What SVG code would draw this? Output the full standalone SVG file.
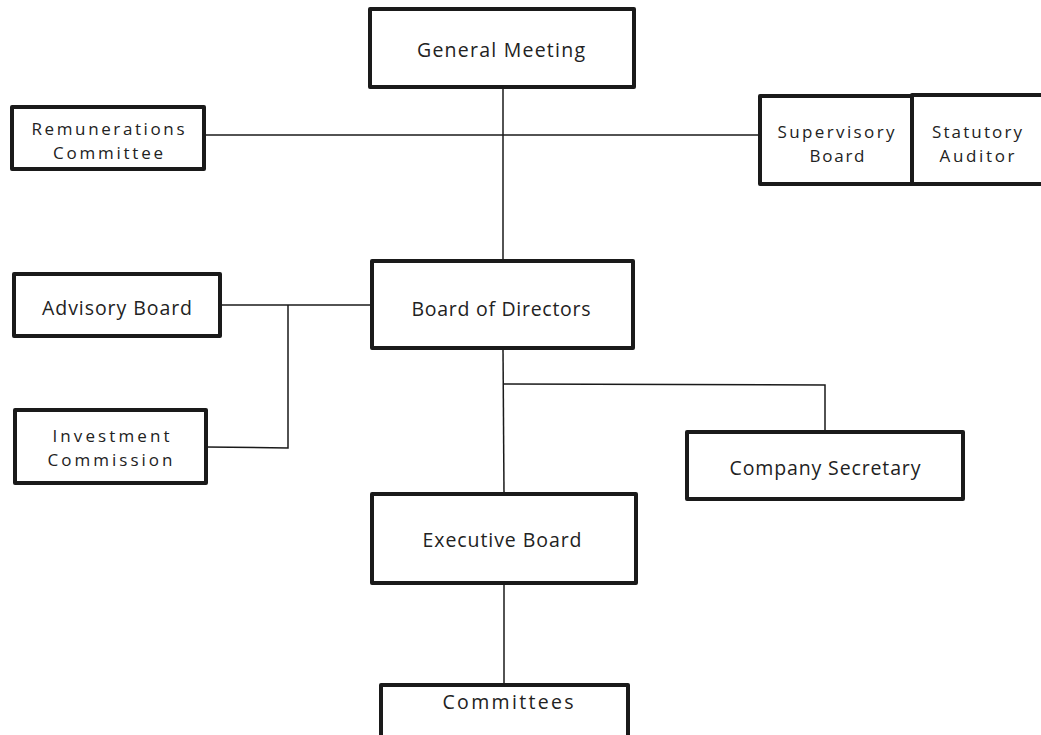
<svg xmlns="http://www.w3.org/2000/svg" width="1041" height="735" viewBox="0 0 1041 735">
<style>
.box{fill:#fff;stroke:#1a1a1a;stroke-width:4;stroke-linejoin:round}
.lbl{font-family:"Open Sans","Liberation Sans",sans-serif;font-size:19.5px;fill:#222;text-anchor:middle}
.two{font-size:17px}
.conn{fill:none;stroke:#1a1a1a;stroke-width:1.5}
</style>
<rect width="1041" height="735" fill="#fff"/>
<g id="connectors">
<line class="conn" x1="503" y1="87" x2="503" y2="261"/>
<line class="conn" x1="204" y1="135" x2="760" y2="135"/>
<line class="conn" x1="220" y1="305" x2="372" y2="305"/>
<polyline class="conn" points="288,305 288,448 206,447"/>
<line class="conn" x1="503" y1="348" x2="504" y2="494"/>
<polyline class="conn" points="503,384 825,385 825,432"/>
<line class="conn" x1="504" y1="583" x2="504" y2="685" stroke-width="2"/>
</g>
<g id="general-meeting"><rect class="box" x="370" y="9" width="264" height="78"/><text class="lbl" x="501" y="57" textLength="168" lengthAdjust="spacing">General Meeting</text></g>
<g id="remunerations-committee"><rect class="box" x="12" y="107" width="192" height="62"/><text class="lbl two" x="108" y="135" textLength="153" lengthAdjust="spacing">Remunerations</text><text class="lbl two" x="108" y="159" textLength="110" lengthAdjust="spacing">Committee</text></g>
<g id="supervisory-board"><rect class="box" x="760" y="96" width="152" height="88"/><text class="lbl two" x="836" y="138" textLength="117" lengthAdjust="spacing">Supervisory</text><text class="lbl two" x="837" y="162" textLength="55" lengthAdjust="spacing">Board</text></g>
<g id="statutory-auditor"><rect class="box" x="912" y="95" width="140" height="89"/><text class="lbl two" x="977" y="138" textLength="90" lengthAdjust="spacing">Statutory</text><text class="lbl two" x="977" y="162" textLength="75" lengthAdjust="spacing">Auditor</text></g>
<g id="advisory-board"><rect class="box" x="14" y="274" width="206" height="62"/><text class="lbl" x="117" y="315" textLength="150" lengthAdjust="spacing">Advisory Board</text></g>
<g id="investment-commission"><rect class="box" x="15" y="410" width="191" height="73"/><text class="lbl two" x="111" y="442" textLength="117" lengthAdjust="spacing">Investment</text><text class="lbl two" x="110" y="466" textLength="125" lengthAdjust="spacing">Commission</text></g>
<g id="board-of-directors"><rect class="box" x="372" y="261" width="261" height="87"/><text class="lbl" x="501" y="316" textLength="179" lengthAdjust="spacing">Board of Directors</text></g>
<g id="company-secretary"><rect class="box" x="687" y="432" width="276" height="67"/><text class="lbl" x="825" y="475" textLength="191" lengthAdjust="spacing">Company Secretary</text></g>
<g id="executive-board"><rect class="box" x="372" y="494" width="264" height="89"/><text class="lbl" x="502" y="547" textLength="159" lengthAdjust="spacing">Executive Board</text></g>
<g id="committees"><rect class="box" x="381" y="685" width="247" height="54"/><text class="lbl" x="508" y="709" textLength="131" lengthAdjust="spacing">Committees</text></g>
</svg>
